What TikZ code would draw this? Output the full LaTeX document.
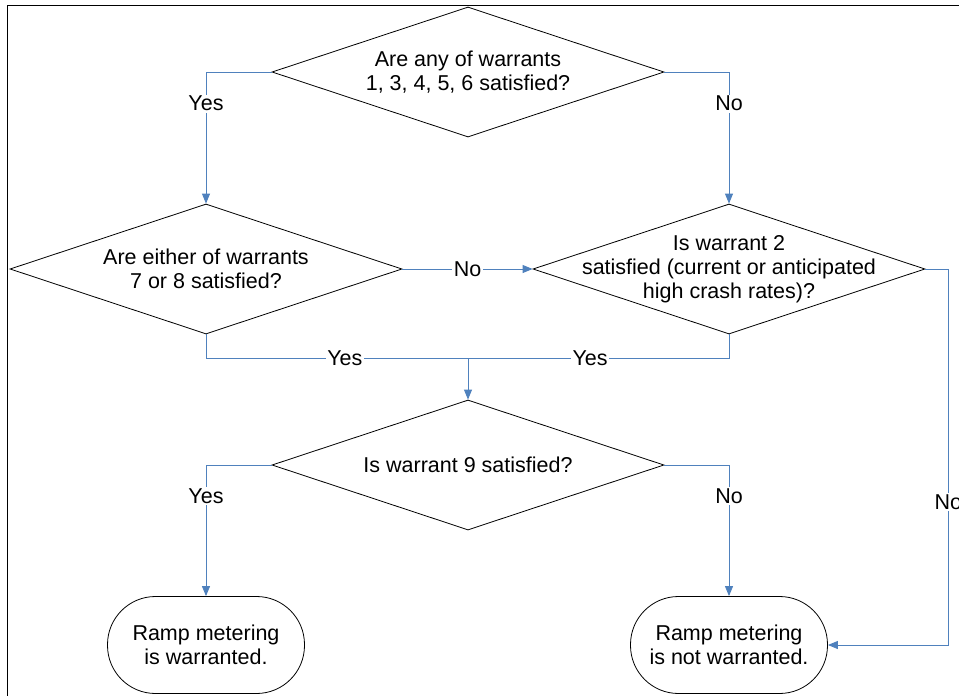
\documentclass[tikz,border=0pt]{standalone}
\usepackage{fontspec}
\setmainfont{Liberation Sans}
\usetikzlibrary{arrows.meta,shapes.geometric}
\definecolor{flowblue}{RGB}{79,129,189}
\begin{document}
\begin{tikzpicture}[x=1pt,y=-1pt,font=\fontsize{21.5}{24}\selectfont,
		decision/.style={diamond,draw,line width=0.8pt,minimum width=392pt,minimum height=130pt,inner sep=0pt},
		terminal/.style={draw,line width=0.8pt,rounded corners=48pt,minimum width=197pt,minimum height=97pt,align=center},
		link/.style={draw=flowblue,line width=0.9pt,-{Triangle[length=10pt,width=8pt]}},
		plain/.style={draw=flowblue,line width=0.9pt},
		lbl/.style={fill=white,inner sep=1.5pt}]
	\useasboundingbox (0,0) rectangle (959,696);
	\clip (0,0) rectangle (959,696);
	\draw[line width=1pt] (7,5) rectangle (990,730);
	% decisions
	\node[decision,label={[align=center]center:Are any of warrants\\1, 3, 4, 5, 6 satisfied?}] (any) at (468,72) {};
	\node[decision,label={[align=center]center:Are either of warrants\\7 or 8 satisfied?}] (either) at (206,269) {};
	\node[decision,label={[align=center]center:Is warrant 2\\satisfied (current or anticipated\\high crash rates)?}] (crash) at (729,269) {};
	\node[decision,label={[align=center]center:Is warrant 9 satisfied?}] (nine) at (468,465) {};
	% outcomes
	\node[terminal] (yesmeter) at (206,645) {Ramp metering\\is warranted.};
	\node[terminal] (nometer) at (729,645) {Ramp metering\\is not warranted.};
	\coordinate (merge) at (468,358);
	% connectors
	\path[link] (any.west) -| node[lbl,pos=0.62]{Yes} (either.north);
	\path[link] (any.east) -| node[lbl,pos=0.62]{No} (crash.north);
	\path[link] (either.east) -- node[lbl]{No} (crash.west);
	\path[plain] (either.south) |- node[lbl,pos=0.765]{Yes} (merge);
	\path[plain] (crash.south) |- node[lbl,pos=0.766]{Yes} (merge);
	\path[link] (merge) -- (nine.north);
	\path[link] (nine.west) -| node[lbl,pos=0.62]{Yes} (yesmeter.north);
	\path[link] (nine.east) -| node[lbl,pos=0.62]{No} (nometer.north);
	\path[link] (crash.east) -- ++(23,0) |- node[lbl,pos=0.31]{No} (nometer.east);
\end{tikzpicture}
\end{document}
